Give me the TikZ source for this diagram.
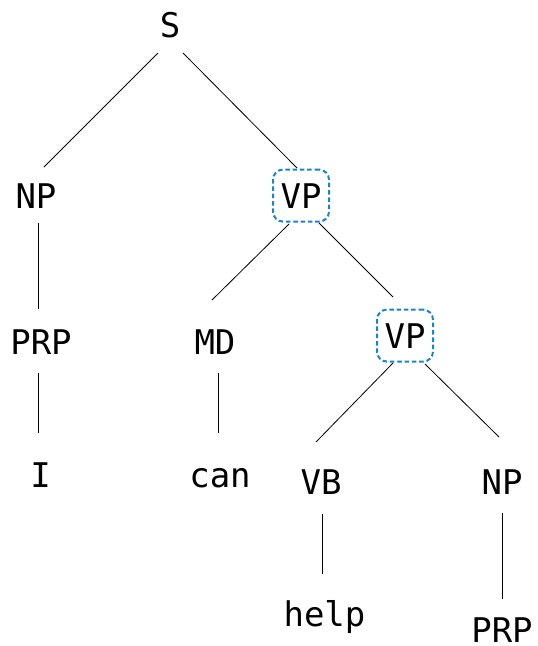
\documentclass[tikz,border=0pt]{standalone}
\usepackage{fontspec}
\setmainfont{DejaVu Sans Mono}
\definecolor{boxblue}{RGB}{24,130,212}
\begin{document}
\begin{tikzpicture}[x=1pt,y=-1pt,
  lab/.style={anchor=base,inner sep=0pt,font=\fontsize{34}{40}\selectfont},
  hbox/.style={lab,draw=boxblue,line width=2pt,dash pattern=on 4.5pt off 2.8pt,
    rounded corners=10pt,minimum width=56pt,minimum height=52pt},
  edge/.style={draw=black,line width=0.8pt}]
\useasboundingbox (0,0) rectangle (538,646);
\node[lab] (S) at (170,37) {S};
\node[lab] (NPa) at (36,208) {NP};
\node[hbox] (VPa) at (301,208) {VP};
\node[lab] (PRPa) at (41,354) {PRP};
\node[lab] (MD) at (215,354) {MD};
\node[hbox] (VPb) at (405,348) {VP};
\node[lab] (I) at (40.5,487) {I};
\node[lab] (can) at (220,487) {can};
\node[lab] (VB) at (321,494) {VB};
\node[lab] (NPb) at (502,494) {NP};
\node[lab] (help) at (324.5,626) {help};
\node[lab] (PRPb) at (502,642) {PRP};
\draw[edge] ([shift={(-12,16)}]S.base) -- ([shift={(8,-41)}]NPa.base);
\draw[edge] ([shift={(13,16)}]S.base) -- ([shift={(-4,-40)}]VPa.base);
\draw[edge] ([shift={(2,15)}]NPa.base) -- ([shift={(-3,-45)}]PRPa.base);
\draw[edge] ([shift={(-12,16)}]VPa.base) -- ([shift={(-3,-54)}]MD.base);
\draw[edge] ([shift={(18,15)}]VPa.base) -- ([shift={(-12,-51)}]VPb.base);
\draw[edge] ([shift={(-3,19)}]PRPa.base) -- ([shift={(-2.5,-54)}]I.base);
\draw[edge] ([shift={(3,19)}]MD.base) -- ([shift={(-2,-54)}]can.base);
\draw[edge] ([shift={(-12,15)}]VPb.base) -- ([shift={(-5,-52)}]VB.base);
\draw[edge] ([shift={(20,16)}]VPb.base) -- ([shift={(-3,-57)}]NPb.base);
\draw[edge] ([shift={(1,20)}]VB.base) -- ([shift={(-2.5,-52)}]help.base);
\draw[edge] ([shift={(0,19)}]NPb.base) -- ([shift={(0,-43)}]PRPb.base);
\end{tikzpicture}
\end{document}
